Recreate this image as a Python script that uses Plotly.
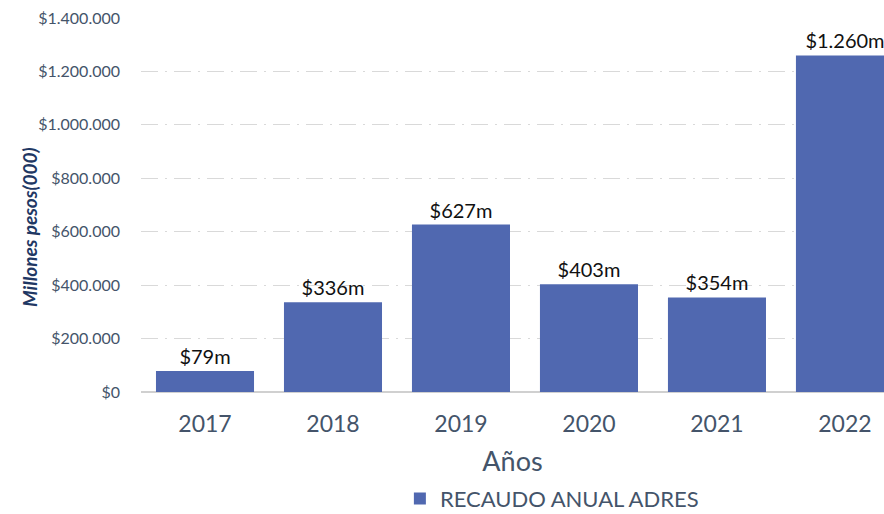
import plotly.graph_objects as go

years = ["2017", "2018", "2019", "2020", "2021", "2022"]
recaudo = [79000, 336000, 627000, 403000, 354000, 1260000]
series_name = "RECAUDO ANUAL ADRES"
y_ticks = [0, 200000, 400000, 600000, 800000, 1000000, 1200000, 1400000]
y_tick_text = ["$" + f"{v:,d}".replace(",", ".") for v in y_ticks]

labels = ["$" + f"{v/1000:,.0f}".replace(",", ".") + "m" for v in recaudo]

BAR = "#5068B0"
TICK = "#44546A"
FONT = "Lato, 'Open Sans', sans-serif"

fig = go.Figure()
fig.add_trace(go.Bar(
    x=years, y=recaudo, name=series_name,
    marker=dict(color=BAR, line=dict(width=0)),
    text=labels, textposition="outside", cliponaxis=False,
    textfont=dict(size=20, color="#111111", family=FONT),
))

fig.add_annotation(
    text="<b><i>Millones pesos(000)</i></b>", textangle=-90,
    xref="paper", yref="paper", x=-0.150, y=0.44, xanchor="center", yanchor="middle",
    showarrow=False, font=dict(size=19, color="#1F3864", family=FONT),
)

fig.update_layout(
    width=884, height=514,
    margin=dict(l=141, r=0, t=18, b=122, autoexpand=False),
    paper_bgcolor="white", plot_bgcolor="white",
    bargap=0.234,
    font=dict(family=FONT, color=TICK),
    showlegend=True,
    legend=dict(orientation="h", x=0.553, xanchor="center", y=-0.285, yanchor="middle",
                font=dict(size=22, color=TICK, family=FONT), itemsizing="constant"),
    xaxis=dict(
        range=[-0.5, 5.305], showgrid=False, showline=False, ticks="", automargin=False,
        tickfont=dict(size=23, color=TICK, family=FONT), ticklabelstandoff=16,
        title=dict(text="Años", font=dict(size=27, color=TICK, family=FONT), standoff=16),
    ),
    yaxis=dict(
        range=[0, 1400000], tickvals=y_ticks, ticktext=y_tick_text, automargin=False,
        tickfont=dict(size=16, color=TICK, family=FONT),
        showgrid=True, gridcolor="#d9d9d9", gridwidth=1.3, griddash="17px,7px,2px,7px",
        zeroline=True, zerolinecolor="#d0d0d0", zerolinewidth=2,
        ticks="", ticklabelstandoff=20,
    ),
)

fig.write_html("out.html", config={"displayModeBar": False},
               post_script="document.body.style.margin='0';document.body.style.overflow='hidden';")
